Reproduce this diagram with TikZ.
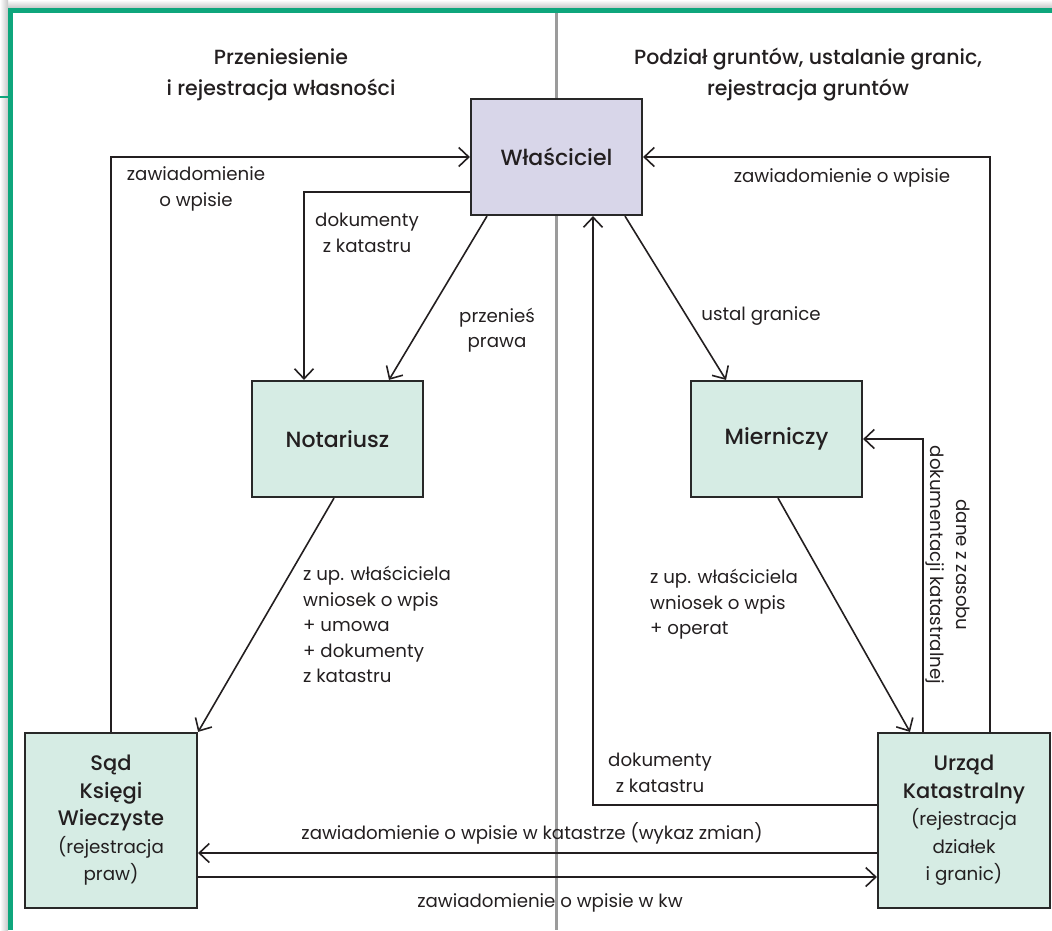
\documentclass[tikz,border=0pt]{standalone}
\usepackage{fontspec}
\setmainfont{Poppins}
\newfontfamily\medfont{Poppins Medium}
\usetikzlibrary{arrows.meta}
\definecolor{framegreen}{RGB}{14,166,124}
\definecolor{lavender}{RGB}{216,214,233}
\definecolor{mint}{RGB}{214,236,228}
\definecolor{boxline}{RGB}{40,40,40}
\definecolor{divgray}{RGB}{155,155,155}
\definecolor{ink}{RGB}{35,31,32}
\newcommand{\boxtitle}[1]{{\medfont\fontsize{21}{27.5}\selectfont #1}}
\tikzset{
  box/.style={draw=boxline, line width=2.2pt, minimum width=171pt, minimum height=116pt,
    inner sep=0pt, align=center, fill=mint, text=ink,
    font=\medfont\fontsize{22}{27.5}\selectfont},
  bigbox/.style={box, minimum width=172pt, minimum height=175pt,
    font=\fontsize{18.3}{27.5}\selectfont},
  arr/.style={draw=ink, line width=1.6pt,
    -{Straight Barb[length=10pt,width=19pt,line width=1.6pt]}},
  lbl/.style={inner sep=0pt, text=ink, font=\fontsize{18.2}{25.5}\selectfont},
  hdr/.style={inner sep=0pt, text=ink, align=center, font=\medfont\fontsize{20.5}{31}\selectfont},
}
\begin{document}
\begin{tikzpicture}[x=1pt,y=-1pt]
\useasboundingbox (0,0) rectangle (1052,930);
% shadow and frame
\shade[top color=white, bottom color=black!22] (0,0) rectangle (1052,8);
\shade[left color=white, right color=black!22] (0,0) rectangle (8,930);
\draw[framegreen, line width=1.5pt] (0,97) -- (10,97);
\draw[framegreen, line width=5.5pt] (1052,10.5) -- (10.5,10.5) -- (10.5,930);
% divider
\draw[divgray, line width=2.2pt] (556.5,13) -- (556.5,930);
% headers
\node[hdr] (h1) at (281,75) {Przeniesienie\\i rejestracja własności};
\node[hdr] (h2) at (808,75) {Podział gruntów, ustalanie granic,\\rejestracja gruntów};
% boxes
\node[box, fill=lavender] (W) at (556.5,157) {Właściciel};
\node[box] (N) at (337.5,439) {Notariusz};
\node[box] (M) at (776.5,439) {Mierniczy};
\node[bigbox] (S) at (111,820.5) {\boxtitle{Sąd}\\\boxtitle{Księgi}\\\boxtitle{Wieczyste}\\(rejestracja\\praw)};
\node[bigbox] (U) at (964,820.5) {\boxtitle{Urząd}\\\boxtitle{Katastralny}\\(rejestracja\\działek\\i granic)};
% connectors
\draw[arr] (S.north) |- (W.west);
\draw[arr] (W.west |- 0,192) -| (N.north -| 304,0);
\draw[arr] (W.south -| 487,0) -- (N.north -| 389,0);
\draw[arr] (W.south -| 625,0) -- (M.north -| 726,0);
\draw[arr] (U.north -| 990,0) |- (W.east);
\draw[arr] (U.west |- 0,805) -| (W.south -| 593,0);
\draw[arr] (M.south -| 778,0) -- (U.north -| 910,0);
\draw[arr] (U.north -| 923,0) |- (M.east);
\draw[arr] (N.south -| 334,0) -- (S.north east);
\draw[arr] (U.west |- 0,853) -- (S.east |- 0,853);
\draw[arr] (S.east |- 0,877) -- (U.west |- 0,877);
% labels
\node[lbl, align=center] (l1) at (196,189) {zawiadomienie\\o wpisie};
\node[lbl, align=center] (l2) at (367,233) {dokumenty\\z katastru};
\node[lbl, align=center] (l3) at (497,330) {przenieś\\prawa};
\node[lbl] (l4) at (761,316) {ustal granice};
\node[lbl] (l5) at (842,178) {zawiadomienie o wpisie};
\node[lbl, align=center] (l6) at (660,773) {dokumenty\\z katastru};
\node[lbl, align=left, anchor=north west] (l7) at (650,569) {z up. właściciela\\wniosek o wpis\\+ operat};
\node[lbl, align=left, anchor=north west] (l8) at (303,566) {z up. właściciela\\wniosek o wpis\\+ umowa\\+ dokumenty\\z katastru};
\node[lbl, align=center, rotate=-90] (l9) at (948,565) {dane z zasobu\\dokumentacji katastralnej};
\node[lbl] (l10) at (532,833) {zawiadomienie o wpisie w katastrze (wykaz zmian)};
\node[lbl] (l11) at (550,903) {zawiadomienie o wpisie w kw};
\end{tikzpicture}
\end{document}
